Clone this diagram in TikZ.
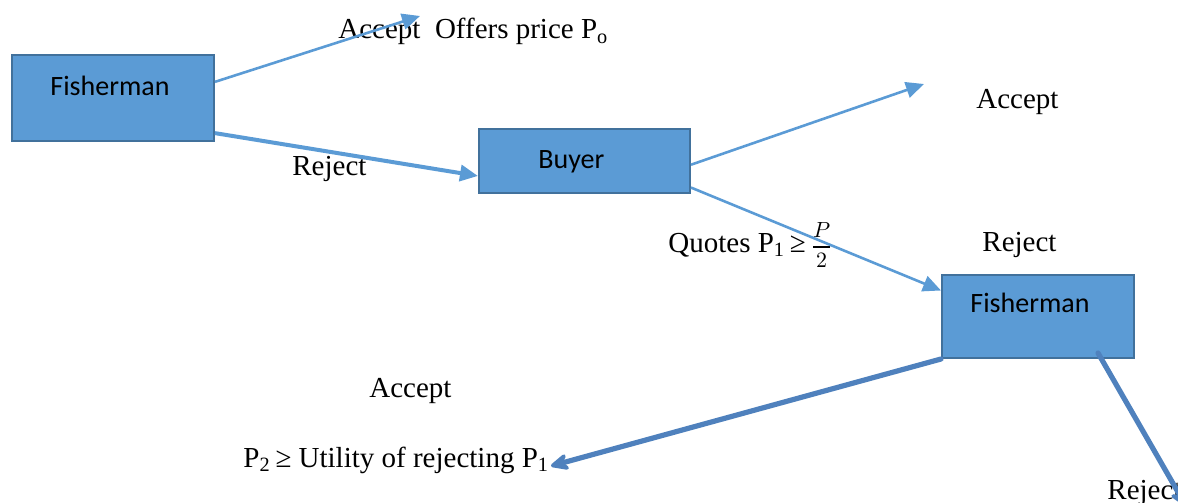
\documentclass[tikz,border=0pt]{standalone}
\usepackage{amsmath}
\usepackage{fontspec}
\setmainfont{Liberation Serif}
\newfontfamily\calibri{Carlito}
\usetikzlibrary{arrows.meta,calc}

\definecolor{boxfill}{HTML}{5B9BD5}
\definecolor{boxedge}{HTML}{41719C}
\definecolor{thinarrow}{HTML}{5B9BD5}
\definecolor{thickarrow}{HTML}{4F81BD}

\tikzset{
  box/.style={draw=boxedge, fill=boxfill, line width=1pt, inner sep=0pt, anchor=north west},
  boxtext/.style={font=\calibri\fontsize{14}{17}\selectfont, inner sep=0pt, anchor=base west},
  lab/.style={font=\fontsize{14.5}{17}\selectfont, inner sep=0pt, anchor=base west},
  thinflow/.style={draw=thinarrow, line width=1.3pt, -{Triangle[length=9pt,width=8pt]}},
  midflow/.style={draw=thinarrow, line width=2pt, -{Triangle[length=9pt,width=8pt]}},
  thickflow/.style={draw=thickarrow, line width=2.6pt, line cap=round,
    -{Stealth[length=12pt,width=11pt,inset=4.5pt,round]}},
}

\begin{document}
\begin{tikzpicture}[x=0.5pt,y=-0.5pt]
\useasboundingbox (0,0) rectangle (1178,503);

% decision boxes
\node[box, minimum width=101pt, minimum height=43pt] (f1) at (11,54) {};
\node[box, minimum width=105.5pt, minimum height=32pt] (buyer) at (478,128) {};
\node[box, minimum width=96pt, minimum height=41.5pt] (f2) at (941,274) {};

\node[boxtext] (f1t) at (50,95) {Fisherman};
\node[boxtext] (buyert) at (538,168) {Buyer};
\node[boxtext] (f2t) at (970,312) {Fisherman};

% free ends of the branches
\coordinate (endA) at (420,16);
\coordinate (endB) at (924,84);
\coordinate (endC) at (551,466);
\coordinate (endD) at (1186,506);

% branch labels
\node[lab] (acc1) at (338,39) {Accept\ \ Offers price P\textsubscript{o}};
\node[lab] (rej1) at (292,175) {Reject};
\node[lab] (acc2) at (976,108) {Accept};
\node[lab] (rej2) at (982,251) {Reject};
\node[lab] (quote) at (668,252) {Quotes P\textsubscript{1}\,≥\,{\fontsize{11}{13}\selectfont$\genfrac{}{}{1pt}{0}{P}{2}$}};
\node[lab] (acc3) at (369,397) {Accept};
\node[lab] (util) at (243,467) {P\textsubscript{2}\,≥ Utility of rejecting P\textsubscript{1}};
\node[lab] (rej3) at (1107,499) {Reject};

% branches
\draw[thinflow] (f1.9) -- (endA);
\draw[midflow] (f1.-19) -- (buyer.188);
\draw[thinflow] (buyer.-2) -- (endB);
\draw[thinflow] (buyer.-14) -- (f2.165);
\draw[thickflow] (f2.south west) -- (endC);
\draw[thickflow] ($(f2.south)+(60,-6)$) -- (endD);
\end{tikzpicture}
\end{document}
